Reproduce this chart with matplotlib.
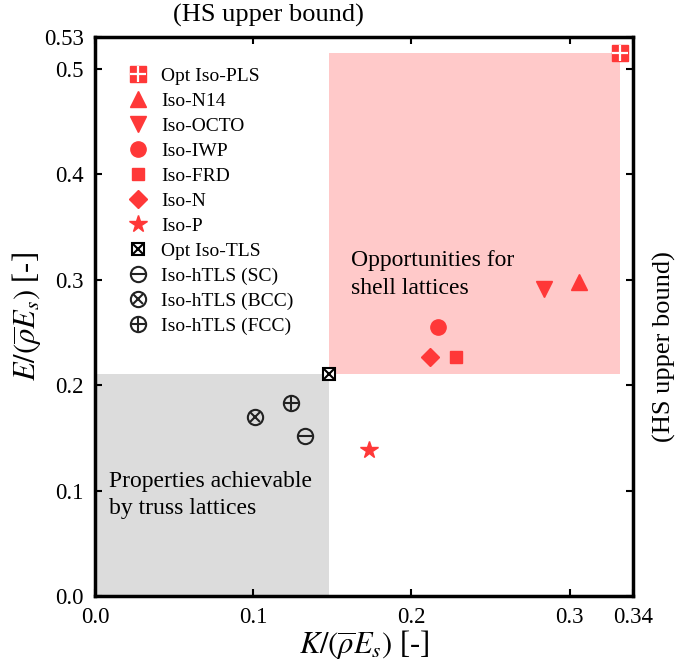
import matplotlib
matplotlib.use('Agg')
import matplotlib.pyplot as plt
from matplotlib.patches import Rectangle
from matplotlib.legend_handler import HandlerTuple

plt.rcParams['font.family'] = ['Liberation Serif', 'DejaVu Serif']
plt.rcParams['mathtext.fontset'] = 'stix'

# data
shell_names = ['Iso-N14', 'Iso-OCTO', 'Iso-IWP', 'Iso-FRD', 'Iso-N', 'Iso-P']
shell_K = [0.306, 0.284, 0.217, 0.228, 0.212, 0.173]
shell_E = [0.298, 0.291, 0.255, 0.227, 0.227, 0.138]
shell_markers = ['^', 'v', 'o', 's', 'D', '*']
shell_sizes = [11, 11, 11, 9, 9, 13]

opt_pls = (0.332, 0.515)
opt_tls = (0.148, 0.211)

truss_names = ['Iso-hTLS (SC)', 'Iso-hTLS (BCC)', 'Iso-hTLS (FCC)']
truss_K = [0.133, 0.101, 0.124]
truss_E = [0.152, 0.170, 0.183]
truss_inner = ['_', 'x', '+']

xticks = [0.0, 0.1, 0.2, 0.3, 0.34]
xticklabels = ['0.0', '0.1', '0.2', '0.3', '0.34']
yticks = [0.0, 0.1, 0.2, 0.3, 0.4, 0.5, 0.53]
yticklabels = ['0.0', '0.1', '0.2', '0.3', '0.4', '0.5', '0.53']

red = '#ff3838'

fig = plt.figure(figsize=(6.75, 6.67), dpi=100)
ax = fig.add_axes([0.1407, 0.1064, 0.797, 0.838])
ax.set_xlim(0, 0.34)
ax.set_ylim(0, 0.53)

# shaded regions
ax.add_patch(Rectangle((0, 0), opt_tls[0], opt_tls[1], color='#dcdcdc', lw=0, zorder=0))
ax.add_patch(Rectangle(opt_tls, opt_pls[0] - opt_tls[0], opt_pls[1] - opt_tls[1],
                       color='#ffc9c9', lw=0, zorder=0))

handles, labels = [], []

h1 = ax.plot(*opt_pls, 's', color=red, ms=11, mec=red, zorder=3)[0]
h2 = ax.plot(*opt_pls, '+', color='white', ms=11, mew=1.6, zorder=4)[0]
handles.append((h1, h2))
labels.append('Opt Iso-PLS')

for n, k, e, m, s in zip(shell_names, shell_K, shell_E, shell_markers, shell_sizes):
    h = ax.plot(k, e, m, color=red, ms=s, mec=red, zorder=3)[0]
    handles.append(h)
    labels.append(n)

h1 = ax.plot(*opt_tls, 's', mfc='white', mec='black', ms=9, mew=1.5, zorder=3)[0]
h2 = ax.plot(*opt_tls, 'x', color='black', ms=7, mew=1.5, zorder=4)[0]
handles.append((h1, h2))
labels.append('Opt Iso-TLS')

for n, k, e, m in zip(truss_names, truss_K, truss_E, truss_inner):
    h1 = ax.plot(k, e, 'o', mfc='none', mec='#222222', ms=11, mew=1.5, zorder=3)[0]
    h2 = ax.plot(k, e, m, color='#222222', ms=10 if m != 'x' else 7.5, mew=1.5, zorder=4)[0]
    handles.append((h1, h2))
    labels.append(n)

ax.legend(handles, labels, handler_map={tuple: HandlerTuple(ndivide=1)},
          loc='upper left', bbox_to_anchor=(0.025, 0.977), frameon=False,
          fontsize=14, labelspacing=0.38, handletextpad=0.6, handlelength=1.2)

ax.text(0.162, 0.328, 'Opportunities for\nshell lattices', fontsize=17, va='top',
        linespacing=1.4)
ax.text(0.009, 0.119, 'Properties achievable\nby truss lattices', fontsize=17, va='top',
        linespacing=1.4)

ax.set_xticks(xticks)
ax.set_xticklabels(xticklabels)
ax.set_yticks(yticks)
ax.set_yticklabels(yticklabels)
ax.tick_params(direction='in', top=True, right=True, length=5, width=1.5,
               labelsize=16.5, pad=8)
for sp in ax.spines.values():
    sp.set_linewidth(2.5)

ax.set_xlabel(r'$K/(\overline{\rho}E_s)$ [-]', fontsize=22, labelpad=0)
ax.set_ylabel(r'$E/(\overline{\rho}E_s)$ [-]', fontsize=22, labelpad=0)

fig.text(0.397, 0.977, '(HS upper bound)', fontsize=19, ha='center', va='center')
fig.text(0.985, 0.48, '(HS upper bound)', fontsize=19, ha='center', va='center',
         rotation=90)

fig.savefig('out.png', dpi=100)
